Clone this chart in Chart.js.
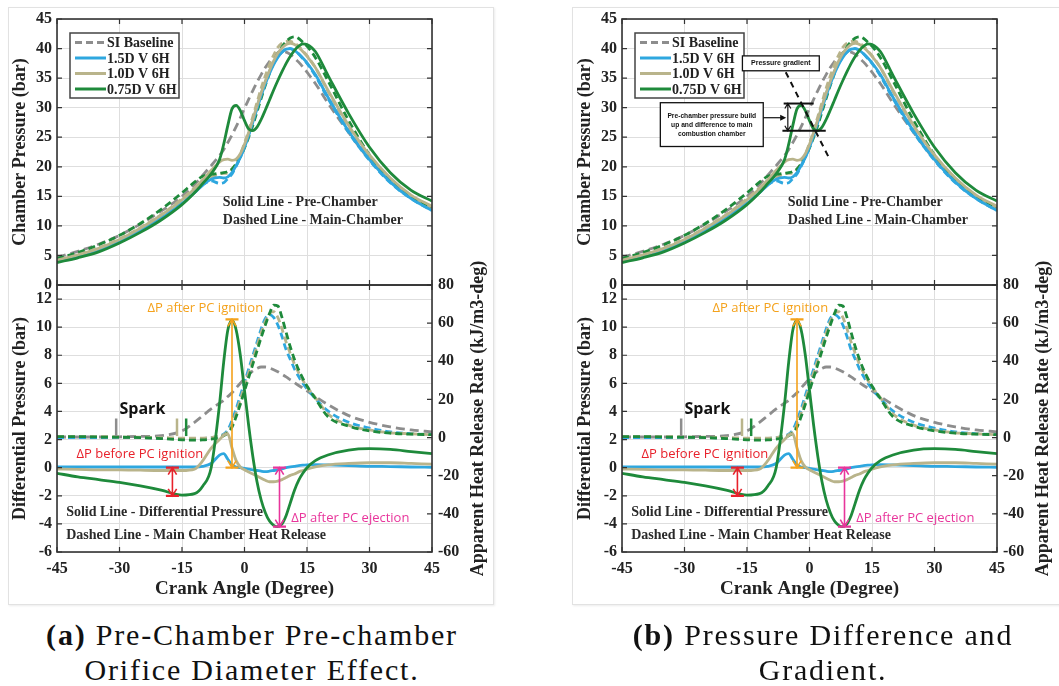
<!DOCTYPE html>
<html>
<head>
<meta charset="utf-8">
<script src="https://cdn.jsdelivr.net/npm/chart.js@4.4.1/dist/chart.umd.min.js"></script>
<style>
  body { margin:0; background:#fff; width:1059px; height:686px; position:relative; overflow:hidden; }
  .card { position:absolute; top:7px; height:598px; border:1px solid #e2e2e2; box-sizing:border-box; background:#fff; box-shadow:1px 1px 2px rgba(0,0,0,0.08); }
  canvas { position:absolute; }
  .cap { position:absolute; width:520px; text-align:center; font-family:"Liberation Serif", serif; font-size:30px; line-height:35px; color:#111; letter-spacing:1.8px; }
</style>
</head>
<body>
<div class="card" style="left:8px;width:486px"></div>
<div class="card" style="left:572px;width:495px"></div>
<canvas id="topA" width="493" height="300" style="left:0;top:0"></canvas>
<canvas id="botA" width="493" height="360" style="left:0;top:240px"></canvas>
<canvas id="topB" width="493" height="300" style="left:565px;top:0"></canvas>
<canvas id="botB" width="493" height="360" style="left:565px;top:240px"></canvas>
<div class="cap" style="left:-8px;top:617px"><b>(a)</b> Pre-Chamber Pre-chamber<br>Orifice Diameter Effect.</div>
<div class="cap" style="left:563px;top:617px"><b>(b)</b> Pressure Difference and<br>Gradient.</div>
<script>
// crank angle (deg) shared by every curve
const crankAngle = [-45,-40,-35,-30,-25,-20,-15,-12,-10,-8,-6,-5,-4,-3,-2,-1,0,1,2,3,4,5,6,7,8,9,10,11,12,13,14,15,17,20,25,30,35,40,45];

// chamber pressure (bar)
const siBaseline = [4.7,5.7,6.9,8.4,10.3, 12.5,15.0,17.0,18.6,20.2, 21.9,22.9,24.1,25.4,26.8, 28.3,29.9,31.4,32.9,34.3, 35.6,36.8,37.8,38.7,39.3, 39.5,39.4,39.0,38.4,37.7, 36.9,36.0,34.1,30.8,25.8, 21.2,17.5,14.8,12.9];
const pre15  = [4.0,4.9,5.9,7.4,9.2, 11.3,13.8,15.6,16.9,17.9, 18.2,18.1,18.3,19.0,20.2, 21.6,23.3,25.3,27.5,29.8, 32.0,34.0,35.8,37.3,38.5, 39.4,39.9,40.0,39.7,39.1, 38.4,37.6,35.6,31.8,26.0, 21.2,17.4,14.6,12.6];
const main15 = [4.1,5.0,6.0,7.5,9.3, 11.4,13.9,15.7,17.0,17.6, 17.2,17.3,18.0,18.8,20.1, 21.6,23.4,25.5,27.8,30.1, 32.3,34.3,36.1,37.5,38.6, 39.4,39.9,40.0,39.7,39.1, 38.3,37.5,35.4,31.6,25.8, 21.1,17.3,14.6,12.6];
const pre10  = [4.2,5.1,6.2,7.7,9.6, 11.8,14.4,16.3,17.8,19.4, 20.8,21.2,21.3,21.1,21.3, 22.2,23.8,25.8,28.0,30.3, 32.5,34.5,36.3,37.9,39.2, 40.1,40.7,40.9,40.7,40.2, 39.5,38.7,36.8,33.0,27.0, 22.0,18.1,15.2,13.3];
const main10 = [4.3,5.2,6.3,7.8,9.7, 11.9,14.6,16.4,17.6,18.2, 18.8,18.9,18.9,19.6,20.7, 22.1,24.0,26.1,28.5,30.9, 33.3,35.4,37.3,38.9,40.2, 40.9,41.2,41.2,40.9,40.4, 39.6,38.8,36.8,32.8,26.7, 21.7,17.8,15.0,13.1];
const pre075 = [3.8,4.6,5.6,7.1,8.9, 11.0,13.6,15.6,17.2,18.8, 21.2,23.8,27.0,29.8,30.4, 29.5,27.8,26.4,26.1,26.7, 28.0,29.6,31.3,33.0,34.6, 36.1,37.5,38.7,39.7,40.4, 40.8,40.7,39.5,35.5,29.0, 23.3,19.0,16.0,14.2];
const main075 = [4.5,5.5,6.8,8.4,10.4, 12.8,15.6,17.4,18.4,18.7, 18.9,19.0,19.2,19.6,20.5, 21.7,23.2,25.0,27.0,29.3, 31.6,33.8,35.8,37.6,39.1, 40.3,41.2,41.8,42.0,41.7, 41.1,40.4,38.5,34.6,27.8, 22.0,17.7,14.9,13.2];

// differential pressure (bar), pre-chamber minus main chamber
const dp15  = [0.05,0.05,0.05,0.05,0.05, 0.05,0.05,0.05,0.1,0.3, 0.9,1.0,0.6,0.2,0.05, 0.0,-0.05,-0.1,-0.15,-0.2, -0.25,-0.28,-0.25,-0.2,-0.15, -0.08,0.0,0.05,0.1,0.15, 0.18,0.2,0.22,0.2,0.15, 0.1,0.08,0.05,0.03];
const dp10  = [-0.1,-0.12,-0.15,-0.15,-0.18, -0.2,-0.2,-0.1,0.5,1.4, 2.0,2.3,2.4,1.4,0.5, 0.05,-0.15,-0.3,-0.45,-0.6, -0.75,-0.9,-1.0,-1.0,-0.95, -0.85,-0.7,-0.55,-0.45,-0.3, -0.2,-0.1,0.05,0.2,0.3, 0.35,0.35,0.3,0.25];
const dp075 = [-0.4,-0.65,-0.85,-1.05,-1.3, -1.6,-1.95,-1.85,-1.3,0.0, 4.5,7.5,9.8,10.5,9.8, 8.0,5.5,3.0,0.8,-1.0, -2.3,-3.2,-3.8,-4.1,-4.2, -4.0,-3.4,-2.5,-1.6,-0.9, -0.4,0.0,0.5,0.9,1.25, 1.35,1.3,1.15,1.0];

// main chamber apparent heat release rate (kJ/m3-deg)
const hrrSI  = [0.3,0.3,0.3,0.4,0.6, 1.0,3.5,8.0,11.5,15.0, 18.0,19.5,21.5,23.5,26.0, 28.5,31.0,33.0,35.0,36.3, 37.0,37.0,36.5,35.6,34.5, 33.2,31.8,30.3,28.8,27.3, 25.9,24.5,21.5,17.3,11.5, 8.0,5.6,4.0,3.0];
const hrr15  = [0,0,0,0,0, -0.3,-0.5,-0.5,-0.4,0, 0.8,1.8,4.0,9.0,15.0, 22.0,29.0,36.0,43.0,50.0, 57.0,62.5,64.5,63.0,59.0, 53.0,46.0,41.0,36.0,32.0, 28.5,25.5,20.5,14.0,8.0, 5.0,3.0,2.0,1.5];
const hrr10  = [0.5,0.5,0.5,0.3,0.2, 0,-0.3,-0.3,-0.3,0, 0.8,1.5,3.0,7.0,13.0, 20.0,27.0,34.0,41.0,48.0, 55.0,61.0,65.0,66.0,63.0, 57.0,50.0,44.0,38.5,34.0, 30.0,26.5,21.0,12.5,6.5, 4.0,2.5,2.0,1.5];
const hrr075 = [0.5,0.5,0.3,0.2,0, -0.5,-1.2,-1.3,-1.2,-0.8, 0,1.0,2.5,5.5,11.0, 17.5,24.5,31.5,38.5,45.5, 52.5,59.0,65.0,69.5,69.0, 63.0,55.0,47.5,41.0,35.5, 31.0,27.0,20.5,11.0,6.0, 3.5,2.3,1.8,1.5];

// spark timing marks (deg) and their extent on the dP axis
const sparkAngle = [-30.8, -16.2, -14.0];
const sparkRange = [2.25, 3.5];

// dP annotations
const noteText  = ['ΔP after PC ignition', 'ΔP before PC ignition', 'ΔP after PC ejection'];
const noteAngle = [-9.4, -25.1, 25.4];
const noteLevel = [11.35, 0.98, -3.6];
const arrowAngle = [-3.0, -17.3, 8.4];
const arrowHigh  = [10.55, 0, 0];
const arrowLow   = [0, -2, -4.2];

// ticks
const angleTicks = [-45,-30,-15,0,15,30,45];
const pressureTicks = [0,5,10,15,20,25,30,35,40,45];
const dpTicks = [-6,-4,-2,0,2,4,6,8,10,12];
const hrrTicks = [-60,-40,-20,0,20,40,60,80];

const seriesNames = ['SI Baseline', '1.5D V 6H', '1.0D V 6H', '0.75D V 6H'];

const GREY = '#8d8d8d', BLUE = '#2ea7df', KHAKI = '#b9b48b', GREEN = '#1e8a3b';
const seriesColors = [GREY, BLUE, KHAKI, GREEN];
const noteColor = ['#f4a21c', '#e8212b', '#e8359b'];
const GRID = '#dedede';
const SERIF = '"Liberation Serif", "Times New Roman", serif';
const SANS = '"Open Sans", "Liberation Sans", sans-serif';
const ARIAL = '"Liberation Sans", Arial, sans-serif';

Chart.defaults.animation = false;
Chart.defaults.color = '#222';
Chart.defaults.plugins.legend.display = false;
Chart.defaults.plugins.tooltip.enabled = false;
Chart.defaults.elements.point.radius = 0;
Chart.defaults.elements.line.borderWidth = 2.8;
Chart.defaults.elements.line.cubicInterpolationMode = 'monotone';

const fixTicks = vals => axis => { axis.ticks = vals.map(v => ({value: v})); };
const tickFont = {family: SERIF, weight: 'bold', size: 16};
const titleFont = {family: SERIF, weight: 'bold', size: 18};

function series(values, color, dash, axis, order) {
  return {
    data: crankAngle.map((x, i) => ({x: x, y: values[i]})),
    borderColor: color, borderDash: dash || [], yAxisID: axis, order: order
  };
}

// axis box + inward tick marks
const framePlugin = {
  id: 'frame',
  afterDatasetsDraw(chart, args, o) {
    const {ctx, chartArea: a, scales} = chart;
    const L = 5;
    ctx.save();
    ctx.strokeStyle = '#333';
    ctx.lineWidth = 1.2;
    ctx.beginPath();
    scales.x.ticks.forEach(t => {
      const p = scales.x.getPixelForValue(t.value);
      ctx.moveTo(p, a.top); ctx.lineTo(p, a.top + L);
      ctx.moveTo(p, a.bottom); ctx.lineTo(p, a.bottom - L);
    });
    scales[o.left].ticks.forEach(t => {
      const p = scales[o.left].getPixelForValue(t.value);
      ctx.moveTo(a.left, p); ctx.lineTo(a.left + L, p);
    });
    scales[o.right].ticks.forEach(t => {
      const p = scales[o.right].getPixelForValue(t.value);
      ctx.moveTo(a.right, p); ctx.lineTo(a.right - L, p);
    });
    ctx.stroke();
    ctx.lineWidth = 1.6;
    ctx.strokeRect(a.left, a.top, a.right - a.left, a.bottom - a.top);
    ctx.restore();
  }
};

const legendPlugin = {
  id: 'legendBox',
  afterDatasetsDraw(chart) {
    const {ctx, chartArea: a} = chart;
    const bx = a.left + 13, by = a.top + 14;
    ctx.save();
    ctx.fillStyle = '#fff';
    ctx.fillRect(bx, by, 109, 65);
    ctx.strokeStyle = '#444';
    ctx.lineWidth = 1.5;
    ctx.strokeRect(bx, by, 109, 65);
    ctx.font = 'bold 14px ' + SERIF;
    ctx.textBaseline = 'middle';
    seriesNames.forEach((name, i) => {
      const y = by + 9.5 + i * 15.5;
      ctx.strokeStyle = seriesColors[i];
      ctx.lineWidth = 3;
      ctx.setLineDash(i === 0 ? [7, 4] : []);
      ctx.beginPath(); ctx.moveTo(bx + 5, y); ctx.lineTo(bx + 36, y); ctx.stroke();
      ctx.fillStyle = '#222';
      ctx.fillText(name, bx + 37, y + 1);
    });
    ctx.restore();
  }
};

function head(ctx, x, y, dy, size) {
  ctx.moveTo(x - size * 0.6, y + dy * size);
  ctx.lineTo(x, y);
  ctx.lineTo(x + size * 0.6, y + dy * size);
}

// text, arrows and boxes placed in data units
const notesPlugin = {
  id: 'notes',
  afterDatasetsDraw(chart, args, o) {
    const ctx = chart.ctx;
    const xs = chart.scales.x;
    (o.items || []).forEach(it => {
      const ys = chart.scales[o.axis];
      const X = v => xs.getPixelForValue(v), Y = v => ys.getPixelForValue(v);
      ctx.save();
      ctx.strokeStyle = it.color || '#111';
      ctx.fillStyle = it.color || '#111';
      ctx.lineWidth = it.lw || 2;
      if (it.type === 'text') {
        ctx.font = it.font;
        ctx.textAlign = it.align || 'center';
        ctx.textBaseline = 'middle';
        ctx.fillText(it.text, X(it.x), Y(it.y));
      } else if (it.type === 'seg') {
        ctx.setLineDash(it.dash || []);
        ctx.beginPath(); ctx.moveTo(X(it.x1), Y(it.y1)); ctx.lineTo(X(it.x2), Y(it.y2)); ctx.stroke();
      } else if (it.type === 'box') {
        const x1 = X(it.x1), y1 = Y(it.y1), x2 = X(it.x2), y2 = Y(it.y2);
        ctx.fillStyle = '#fff';
        ctx.fillRect(x1, y1, x2 - x1, y2 - y1);
        ctx.lineWidth = 1.3;
        ctx.strokeRect(x1, y1, x2 - x1, y2 - y1);
      } else if (it.type === 'darrow') {
        const x = X(it.x), y1 = Y(it.y1), y2 = Y(it.y2);
        const cap = it.cap === undefined ? 6.5 : it.cap;
        const hs = it.head || 7;
        ctx.beginPath(); ctx.moveTo(x, y1); ctx.lineTo(x, y2);
        head(ctx, x, y1, 1, hs);
        head(ctx, x, y2, -1, hs);
        ctx.stroke();
        if (cap > 0) {
          ctx.lineWidth = 2.2;
          ctx.beginPath();
          ctx.moveTo(x - cap, y1); ctx.lineTo(x + cap, y1);
          ctx.moveTo(x - cap, y2); ctx.lineTo(x + cap, y2);
          ctx.stroke();
        }
      } else if (it.type === 'harrow') {
        const x1 = X(it.x1), x2 = X(it.x2), y = Y(it.y);
        ctx.beginPath(); ctx.moveTo(x1, y); ctx.lineTo(x2 - 4, y); ctx.stroke();
        ctx.beginPath(); ctx.moveTo(x2, y); ctx.lineTo(x2 - 6, y - 3); ctx.lineTo(x2 - 6, y + 3); ctx.closePath(); ctx.fill();
      }
      ctx.restore();
    });
  }
};

const sideTitle = {
  id: 'sideTitle',
  afterDraw(chart, args, o) {
    if (!o.text) return;
    const {ctx, chartArea: a} = chart;
    ctx.save();
    ctx.translate(a.right + 46, (a.top + a.bottom) / 2);
    ctx.rotate(-Math.PI / 2);
    ctx.font = 'bold 18px ' + SERIF;
    ctx.fillStyle = '#222';
    ctx.textAlign = 'center';
    ctx.textBaseline = 'middle';
    ctx.fillText(o.text, 0, 0);
    ctx.restore();
  }
};

function pressureChart(id, notes) {
  return new Chart(document.getElementById(id), {
    type: 'line',
    data: {datasets: [
      series(siBaseline, GREY, [9, 5], 'y', 8),
      series(main15, BLUE, [7, 4], 'y', 7),
      series(main10, KHAKI, [7, 4], 'y', 6),
      series(main075, GREEN, [7, 4], 'y', 5),
      series(pre15, BLUE, null, 'y', 4),
      series(pre10, KHAKI, null, 'y', 3),
      series(pre075, GREEN, null, 'y', 2)
    ]},
    options: {
      responsive: false,
      layout: {padding: {left: 8, top: 19, right: 61, bottom: 15}},
      scales: {
        x: {type: 'linear', min: -45, max: 45, afterBuildTicks: fixTicks(angleTicks),
            afterFit: s => { s.height = 0; },
            ticks: {display: false}, grid: {color: GRID, drawTicks: false}, border: {display: false}},
        y: {type: 'linear', min: 0, max: 45, afterBuildTicks: fixTicks(pressureTicks),
            afterFit: s => { s.width = 49; },
            ticks: {padding: 5, font: tickFont, color: '#222'},
            grid: {color: GRID, drawTicks: false}, border: {display: false},
            title: {display: true, text: 'Chamber Pressure (bar)', font: titleFont, color: '#222', padding: {top: 2, bottom: 0}}}
      },
      plugins: {
        frame: {left: 'y', right: 'y'},
        notes: {axis: 'y', items: [
          {type: 'text', x: -5.2, y: 14.0, text: 'Solid Line - Pre-Chamber', font: 'bold 14px ' + SERIF, color: '#2a2a2a', align: 'left'},
          {type: 'text', x: -5.2, y: 11.0, text: 'Dashed Line - Main-Chamber', font: 'bold 14px ' + SERIF, color: '#2a2a2a', align: 'left'}
        ].concat(notes)}
      }
    },
    plugins: [framePlugin, legendPlugin, notesPlugin]
  });
}

function releaseChart(id) {
  const sparks = sparkAngle.map((a, i) => ({
    data: [{x: a, y: sparkRange[0]}, {x: a, y: sparkRange[1]}],
    borderColor: [GREY, KHAKI, GREEN][i], borderWidth: 2.5, yAxisID: 'yD',
    tension: 0, cubicInterpolationMode: 'default', order: 1
  }));
  const items = [{type: 'text', x: -24.5, y: 4.18, text: 'Spark', font: 'bold 16px ' + SANS, color: '#111'}];
  noteText.forEach((t, i) => items.push({type: 'text', x: noteAngle[i], y: noteLevel[i], text: t, font: '13px ' + SANS, color: noteColor[i]}));
  arrowAngle.forEach((x, i) => items.push({type: 'darrow', x: x, y1: arrowHigh[i], y2: arrowLow[i], color: noteColor[i], lw: 1.6}));
  items.push({type: 'text', x: -42.8, y: -3.2, text: 'Solid Line - Differential Pressure', font: 'bold 14px ' + SERIF, color: '#2a2a2a', align: 'left'});
  items.push({type: 'text', x: -42.8, y: -4.85, text: 'Dashed Line - Main Chamber Heat Release', font: 'bold 14px ' + SERIF, color: '#2a2a2a', align: 'left'});
  return new Chart(document.getElementById(id), {
    type: 'line',
    data: {datasets: [
      series(hrrSI, GREY, [9, 5], 'yH', 9),
      series(hrr15, BLUE, [7, 4], 'yH', 8),
      series(hrr10, KHAKI, [7, 4], 'yH', 7),
      series(hrr075, GREEN, [7, 4], 'yH', 6),
      series(dp15, BLUE, null, 'yD', 5),
      series(dp10, KHAKI, null, 'yD', 4),
      series(dp075, GREEN, null, 'yD', 3)
    ].concat(sparks)},
    options: {
      responsive: false,
      layout: {padding: {left: 8, top: 45, right: 5, bottom: 0}},
      scales: {
        x: {type: 'linear', min: -45, max: 45, afterBuildTicks: fixTicks(angleTicks),
            afterFit: s => { s.height = 48; },
            ticks: {padding: 7, font: tickFont, color: '#222'},
            grid: {color: GRID, drawTicks: false}, border: {display: false},
            title: {display: true, text: 'Crank Angle (Degree)', font: {family: SERIF, weight: 'bold', size: 19}, color: '#222', padding: {top: 2, bottom: 0}}},
        yD: {type: 'linear', axis: 'y', position: 'left', min: -6, max: 13, afterBuildTicks: fixTicks(dpTicks),
            afterFit: s => { s.width = 49; },
            ticks: {padding: 5, font: tickFont, color: '#222'},
            grid: {color: GRID, drawTicks: false}, border: {display: false},
            title: {display: true, text: 'Differential Pressure (bar)', font: titleFont, color: '#222', padding: {top: 2, bottom: 0}}},
        yH: {type: 'linear', axis: 'y', position: 'right', min: -60, max: 80, afterBuildTicks: fixTicks(hrrTicks),
            afterFit: s => { s.width = 56; },
            ticks: {padding: 6, font: tickFont, color: '#222'},
            grid: {drawOnChartArea: false, drawTicks: false}, border: {display: false}}
      },
      plugins: {
        frame: {left: 'yD', right: 'yH'},
        notes: {axis: 'yD', items: items},
        sideTitle: {text: 'Apparent Heat Release Rate (kJ/m3-deg)'}
      }
    },
    plugins: [framePlugin, notesPlugin, sideTitle]
  });
}

const gradientNotes = [
  {type: 'seg', x1: -5.7, y1: 36.0, x2: 4.9, y2: 21.2, dash: [6, 5], lw: 2},
  {type: 'box', x1: -16.1, y1: 38.76, x2: 2.35, y2: 36.24},
  {type: 'text', x: -6.9, y: 37.5, text: 'Pressure gradient', font: 'bold 7px ' + ARIAL},
  {type: 'seg', x1: -6.2, y1: 30.7, x2: 1.0, y2: 30.7, lw: 2},
  {type: 'seg', x1: -6.5, y1: 26.1, x2: 3.9, y2: 26.1, lw: 2},
  {type: 'darrow', x: -5.2, y1: 30.7, y2: 26.1, lw: 1.2, cap: 0, head: 5},
  {type: 'box', x1: -35.8, y1: 30.84, x2: -11.1, y2: 23.43},
  {type: 'text', x: -23.45, y: 28.53, text: 'Pre-chamber pressure build', font: 'bold 6.7px ' + ARIAL},
  {type: 'text', x: -23.45, y: 27.0, text: 'up and difference to main', font: 'bold 6.7px ' + ARIAL},
  {type: 'text', x: -23.45, y: 25.57, text: 'combustion chamber', font: 'bold 6.7px ' + ARIAL},
  {type: 'harrow', x1: -11.1, x2: -5.6, y: 28.3, lw: 1.2}
];

pressureChart('topA', []);
releaseChart('botA');
pressureChart('topB', gradientNotes);
releaseChart('botB');
</script>
</body>
</html>
